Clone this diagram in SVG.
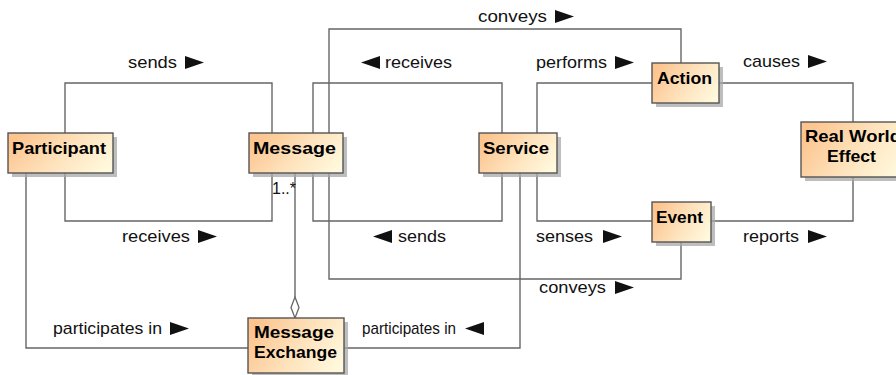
<svg xmlns="http://www.w3.org/2000/svg" xmlns:xlink="http://www.w3.org/1999/xlink" width="896" height="375" viewBox="0 0 896 375">
  <style>
    .box { fill: url(#classFill); stroke: #555; stroke-width: 1.4; }
    .shadow { fill: #a8a8a8; opacity: 0.75; }
    .name { font-family: "Liberation Sans", Arial, sans-serif; font-weight: bold; font-size: 17px; fill: #000; }
    .lbl { font-family: "Liberation Sans", Arial, sans-serif; font-size: 17px; fill: #111; }
    .wire { fill: none; stroke: #666; stroke-width: 1.4; }
    .dir { fill: #111; }
  </style>
  <defs>
    <linearGradient id="classFill" x1="0" y1="0.3" x2="1" y2="0.7">
      <stop offset="0" stop-color="#fcc48f"/>
      <stop offset="0.55" stop-color="#fee3bd"/>
      <stop offset="1" stop-color="#fff8dc"/>
    </linearGradient>
    <path id="triR" d="M0,0 L19,6.5 L0,13 Z"/>
    <path id="triL" d="M19,0 L0,6.5 L19,13 Z"/>
  </defs>

  <rect width="896" height="375" fill="#fff"/>

  <!-- associations -->
  <g id="connectors">
    <path class="wire" d="M65,133 V83 H272 V133"/>
    <path class="wire" d="M65,173 V221 H272 V173"/>
    <path class="wire" d="M26,173 V348 H248"/>
    <path class="wire" d="M295,173 V297"/>
    <path d="M295,297 L299,307.5 L295,318 L291,307.5 Z" fill="#fff" stroke="#666" stroke-width="1.3"/>
    <path class="wire" d="M313,133 V83 H502 V133"/>
    <path class="wire" d="M313,173 V221 H502 V173"/>
    <path class="wire" d="M329,133 V29 H681 V63"/>
    <path class="wire" d="M329,173 V279 H681 V242"/>
    <path class="wire" d="M537,133 V83 H652"/>
    <path class="wire" d="M537,173 V221 H652"/>
    <path class="wire" d="M520,173 V348 H344"/>
    <path class="wire" d="M719,83 H853 V122"/>
    <path class="wire" d="M711,221 H853 V177"/>

    <!-- association names with reading direction -->
    <text class="lbl" x="128" y="68" textLength="49" lengthAdjust="spacingAndGlyphs">sends</text>
    <use xlink:href="#triR" class="dir" x="185" y="56"/>
    <text class="lbl" x="122" y="242" textLength="68" lengthAdjust="spacingAndGlyphs">receives</text>
    <use xlink:href="#triR" class="dir" x="198" y="230"/>
    <text class="lbl" x="53" y="334" textLength="109" lengthAdjust="spacingAndGlyphs">participates in</text>
    <use xlink:href="#triR" class="dir" x="170" y="322"/>
    <use xlink:href="#triL" class="dir" x="361" y="56"/>
    <text class="lbl" x="385" y="68" textLength="67" lengthAdjust="spacingAndGlyphs">receives</text>
    <use xlink:href="#triL" class="dir" x="373" y="230"/>
    <text class="lbl" x="398" y="242" textLength="48" lengthAdjust="spacingAndGlyphs">sends</text>
    <text class="lbl" x="478" y="22" textLength="69" lengthAdjust="spacingAndGlyphs">conveys</text>
    <use xlink:href="#triR" class="dir" x="555" y="10"/>
    <text class="lbl" x="536" y="68" textLength="71" lengthAdjust="spacingAndGlyphs">performs</text>
    <use xlink:href="#triR" class="dir" x="615" y="56"/>
    <text class="lbl" x="536" y="242" textLength="57" lengthAdjust="spacingAndGlyphs">senses</text>
    <use xlink:href="#triR" class="dir" x="603" y="230"/>
    <text class="lbl" x="539" y="293" textLength="67" lengthAdjust="spacingAndGlyphs">conveys</text>
    <use xlink:href="#triR" class="dir" x="615" y="281"/>
    <text class="lbl" x="362" y="334" textLength="94" lengthAdjust="spacingAndGlyphs">participates in</text>
    <use xlink:href="#triL" class="dir" x="465" y="322"/>
    <text class="lbl" x="743" y="67" textLength="57" lengthAdjust="spacingAndGlyphs">causes</text>
    <use xlink:href="#triR" class="dir" x="808" y="55"/>
    <text class="lbl" x="743" y="242" textLength="56" lengthAdjust="spacingAndGlyphs">reports</text>
    <use xlink:href="#triR" class="dir" x="808" y="230"/>
    <text class="lbl" x="272" y="194" font-size="15" textLength="24" lengthAdjust="spacingAndGlyphs">1..*</text>
  </g>

  <!-- classes -->
  <g id="participant">
    <rect class="shadow" x="12" y="137" width="105" height="40"/>
    <rect class="box" x="8" y="133" width="105" height="40"/>
    <text class="name" x="12" y="154" textLength="94" lengthAdjust="spacingAndGlyphs">Participant</text>
  </g>
  <g id="message">
    <rect class="shadow" x="253" y="137" width="94" height="40"/>
    <rect class="box" x="249" y="133" width="94" height="40"/>
    <text class="name" x="253" y="154" textLength="83" lengthAdjust="spacingAndGlyphs">Message</text>
  </g>
  <g id="service">
    <rect class="shadow" x="483" y="137" width="78" height="40"/>
    <rect class="box" x="479" y="133" width="78" height="40"/>
    <text class="name" x="483" y="154" textLength="66" lengthAdjust="spacingAndGlyphs">Service</text>
  </g>
  <g id="action">
    <rect class="shadow" x="656" y="67" width="67" height="40"/>
    <rect class="box" x="652" y="63" width="67" height="40"/>
    <text class="name" x="657" y="84" textLength="55" lengthAdjust="spacingAndGlyphs">Action</text>
  </g>
  <g id="event">
    <rect class="shadow" x="656" y="206" width="59" height="40"/>
    <rect class="box" x="652" y="202" width="59" height="40"/>
    <text class="name" x="656" y="223" textLength="47" lengthAdjust="spacingAndGlyphs">Event</text>
  </g>
  <g id="real-world-effect">
    <rect class="shadow" x="805" y="126" width="104" height="55"/>
    <rect class="box" x="801" y="122" width="104" height="55"/>
    <text class="name" x="805" y="142" textLength="96" lengthAdjust="spacingAndGlyphs">Real World</text>
    <text class="name" x="827" y="162" textLength="49" lengthAdjust="spacingAndGlyphs">Effect</text>
  </g>
  <g id="message-exchange">
    <rect class="shadow" x="252" y="322" width="96" height="55"/>
    <rect class="box" x="248" y="318" width="96" height="55"/>
    <text class="name" x="254" y="338" textLength="80" lengthAdjust="spacingAndGlyphs">Message</text>
    <text class="name" x="254" y="358" textLength="83" lengthAdjust="spacingAndGlyphs">Exchange</text>
  </g>
</svg>
